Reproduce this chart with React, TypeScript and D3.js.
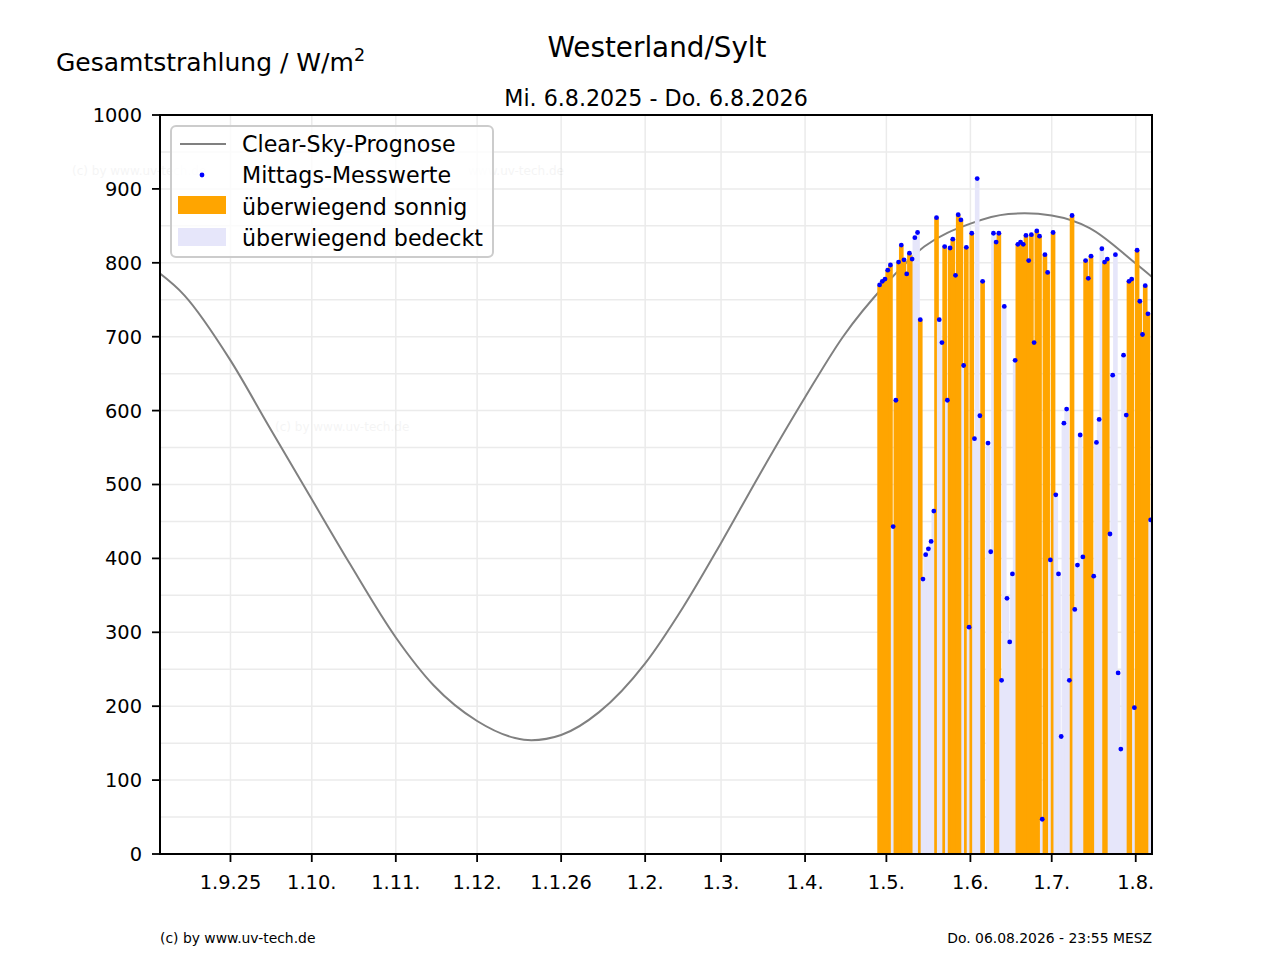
import * as d3 from "d3";

// Westerland/Sylt – Gesamtstrahlung, 6.8.2025 bis 6.8.2026

// clear-sky forecast (1st and 15th of each month)
const clearSkyDates = [
  "2025-08-01", "2025-08-15", "2025-09-01", "2025-09-15", "2025-10-01",
  "2025-10-15", "2025-11-01", "2025-11-15", "2025-12-01", "2025-12-15",
  "2025-12-21", "2026-01-01", "2026-01-15", "2026-02-01", "2026-02-15",
  "2026-03-01", "2026-03-15", "2026-04-01", "2026-04-15", "2026-05-01",
  "2026-05-15", "2026-06-01", "2026-06-15", "2026-06-21", "2026-07-01",
  "2026-07-15", "2026-08-01", "2026-08-15",
];
const clearSkyValues = [
  799, 756, 668, 580, 480,
  393, 293, 228, 180, 157,
  154, 161, 192, 258, 334,
  421, 512, 618, 700, 772,
  822, 853, 866, 867, 864,
  847, 799, 756,
];

// noon measurements, one per day starting 28.4.2026 (null = no value)
const firstMeasurementDay = "2026-04-28";
const noonValues: (number | null)[] = [
  770, 775, 778, 790, 797, 443, 614, 801, 824, 804,
  785, 813, 805, 834, 841, 723, 372, 405, 413, 423,
  464, 861, 723, 692, 822, 614, 820, 832, 783, 865,
  858, 661, 821, 307, 840, 562, 914, 593, 775, null,
  556, 409, 840, 828, 840, 235, 741, 346, 287, 379,
  668, 825, 828, 825, 837, 803, 838, 692, 843, 836,
  47, 811, 787, 398, 841, 486, 379, 159, 583, 602,
  235, 864, 331, 391, 567, 402, 803, 779, 809, 376,
  557, 588, 819, 801, 805, 433, 648, 811, 245, 142,
  675, 594, 775, 778, 198, 817, 748, 703, 769, 731,
  452,
];
// 1 = überwiegend sonnig, 0 = überwiegend bedeckt
const sunnyFlags = [
  1, 1, 1, 1, 1, 0, 1, 1, 1, 1,
  1, 1, 1, 0, 0, 1, 0, 0, 0, 0,
  0, 1, 0, 0, 1, 0, 1, 1, 1, 1,
  1, 0, 1, 0, 1, 0, 0, 0, 1, 0,
  0, 0, 0, 1, 1, 0, 0, 0, 0, 0,
  0, 1, 1, 1, 1, 1, 1, 1, 1, 1,
  0, 1, 1, 0, 1, 0, 0, 0, 0, 0,
  0, 1, 0, 0, 0, 0, 1, 1, 1, 1,
  0, 0, 0, 1, 1, 0, 0, 0, 0, 0,
  0, 0, 1, 1, 0, 1, 1, 1, 1, 1,
  0,
];

const yTicks = [0, 100, 200, 300, 400, 500, 600, 700, 800, 900, 1000];
const yGrid = d3.range(0, 1001, 50);

const legendLabels = [
  "Clear-Sky-Prognose",
  "Mittags-Messwerte",
  "überwiegend sonnig",
  "überwiegend bedeckt",
];

const W = 1280;
const H = 960;
const plot = { left: 160, right: 1152, top: 115, bottom: 854 };
const font = "DejaVu Sans, sans-serif";
const SUN = "#ffa500";
const CLOUD = "#e6e6fa";

const parse = d3.timeParse("%Y-%m-%d");

export default function App() {
  const x = d3
    .scaleTime()
    .domain([new Date(2025, 7, 6), new Date(2026, 7, 7)])
    .range([plot.left, plot.right]);
  const y = d3.scaleLinear().domain([0, 1000]).range([plot.bottom, plot.top]);

  const monthTicks = d3.timeMonth.range(new Date(2025, 8, 1), new Date(2026, 7, 2));
  const tickLabel = (d: Date) => {
    const m = d.getMonth() + 1;
    if (m === 9 && d.getFullYear() === 2025) return "1.9.25";
    if (m === 1) return `1.1.${String(d.getFullYear()).slice(2)}`;
    return `1.${m}.`;
  };

  const start = parse(firstMeasurementDay) as Date;
  const days = noonValues.map((v, i) => {
    const d = d3.timeDay.offset(start, i);
    d.setHours(12);
    return { date: d, value: v, sunny: sunnyFlags[i] === 1 };
  });

  const barW = x(d3.timeHour.offset(start, 41)) - x(start); // ~1.7 days

  const clearSky = clearSkyDates.map((d, i) => ({ date: parse(d) as Date, value: clearSkyValues[i] }));
  const line = d3
    .line<{ date: Date; value: number }>()
    .x((p) => x(p.date))
    .y((p) => y(p.value))
    .curve(d3.curveMonotoneX);

  const lg = { x: 171, y: 126, w: 322, h: 131 };

  return (
    <svg
      width={W}
      height={H}
      viewBox={`0 0 ${W} ${H}`}
      style={{ position: "absolute", left: 0, top: 0, background: "#fff" }}
      fontFamily={font}
    >
      <defs>
        <clipPath id="plotClip">
          <rect x={plot.left} y={plot.top} width={plot.right - plot.left} height={plot.bottom - plot.top} />
        </clipPath>
      </defs>
      <rect width={W} height={H} fill="#fff" />

      {/* titles */}
      <text x={657} y={57} textAnchor="middle" fontSize={27.8} fill="#000">
        Westerland/Sylt
      </text>
      <text x={656} y={106} textAnchor="middle" fontSize={22.2} fill="#000">
        Mi. 6.8.2025 - Do. 6.8.2026
      </text>
      <text x={56} y={71} fontSize={25} fill="#000">
        Gesamtstrahlung / W/m
      </text>
      <text x={354} y={61} fontSize={17.5} fill="#000">
        2
      </text>

      {/* grid */}
      <g stroke="#ebebeb" strokeWidth={1.5}>
        {yGrid.map((v) => (
          <line key={`gy${v}`} x1={plot.left} x2={plot.right} y1={y(v)} y2={y(v)} />
        ))}
        {monthTicks.map((d) => (
          <line key={`gx${+d}`} x1={x(d)} x2={x(d)} y1={plot.top} y2={plot.bottom} />
        ))}
      </g>

      {/* watermarks */}
      <g fontSize={12} fill="#000" opacity={0.04}>
        <text x={72} y={175}>(c) by www.uv-tech.de</text>
        <text x={468} y={175}>www.uv-tech.de</text>
        <text x={275} y={431}>(c) by www.uv-tech.de</text>
      </g>

      <g clipPath="url(#plotClip)">
        <path d={line(clearSky) ?? ""} fill="none" stroke="#808080" strokeWidth={2} />
        {days.map((d, i) =>
          d.value == null ? null : (
            <rect
              key={`b${i}`}
              x={x(d.date) - barW / 2}
              y={y(d.value)}
              width={barW}
              height={y(0) - y(d.value)}
              fill={d.sunny ? SUN : CLOUD}
            />
          )
        )}
        {days.map((d, i) =>
          d.value == null ? null : (
            <circle key={`p${i}`} cx={x(d.date)} cy={y(d.value)} r={2.4} fill="#0000ff" />
          )
        )}
      </g>

      {/* axes frame */}
      <rect
        x={plot.left}
        y={plot.top}
        width={plot.right - plot.left}
        height={plot.bottom - plot.top}
        fill="none"
        stroke="#000"
        strokeWidth={2}
      />

      {/* y axis */}
      <g fontSize={19.4} fill="#000">
        {yTicks.map((v) => (
          <g key={`yt${v}`}>
            <line x1={plot.left - 8} x2={plot.left} y1={y(v)} y2={y(v)} stroke="#000" strokeWidth={1.8} />
            <text x={plot.left - 18} y={y(v)} dy="0.36em" textAnchor="end">
              {v}
            </text>
          </g>
        ))}
      </g>

      {/* x axis */}
      <g fontSize={19.4} fill="#000">
        {monthTicks.map((d) => (
          <g key={`xt${+d}`}>
            <line x1={x(d)} x2={x(d)} y1={plot.bottom} y2={plot.bottom + 8} stroke="#000" strokeWidth={1.8} />
            <text x={x(d)} y={889} textAnchor="middle">
              {tickLabel(d)}
            </text>
          </g>
        ))}
      </g>

      {/* legend */}
      <g>
        <rect x={lg.x} y={lg.y} width={lg.w} height={lg.h} rx={5} fill="#fff" fillOpacity={0.8} stroke="#cccccc" strokeWidth={2} />
        <line x1={180} x2={226} y1={144} y2={144} stroke="#808080" strokeWidth={2} />
        <circle cx={202} cy={175} r={2.4} fill="#0000ff" />
        <rect x={178} y={196} width={48} height={18} fill={SUN} />
        <rect x={178} y={228} width={48} height={18} fill={CLOUD} />
        {legendLabels.map((t, i) => (
          <text key={t} x={242} y={152 + i * 31.3} fontSize={22.2} fill="#000">
            {t}
          </text>
        ))}
      </g>

      {/* footer */}
      <text x={160} y={943} fontSize={13.9} fill="#000">
        (c) by www.uv-tech.de
      </text>
      <text x={1152} y={943} fontSize={13.9} textAnchor="end" fill="#000">
        Do. 06.08.2026 - 23:55 MESZ
      </text>
    </svg>
  );
}
